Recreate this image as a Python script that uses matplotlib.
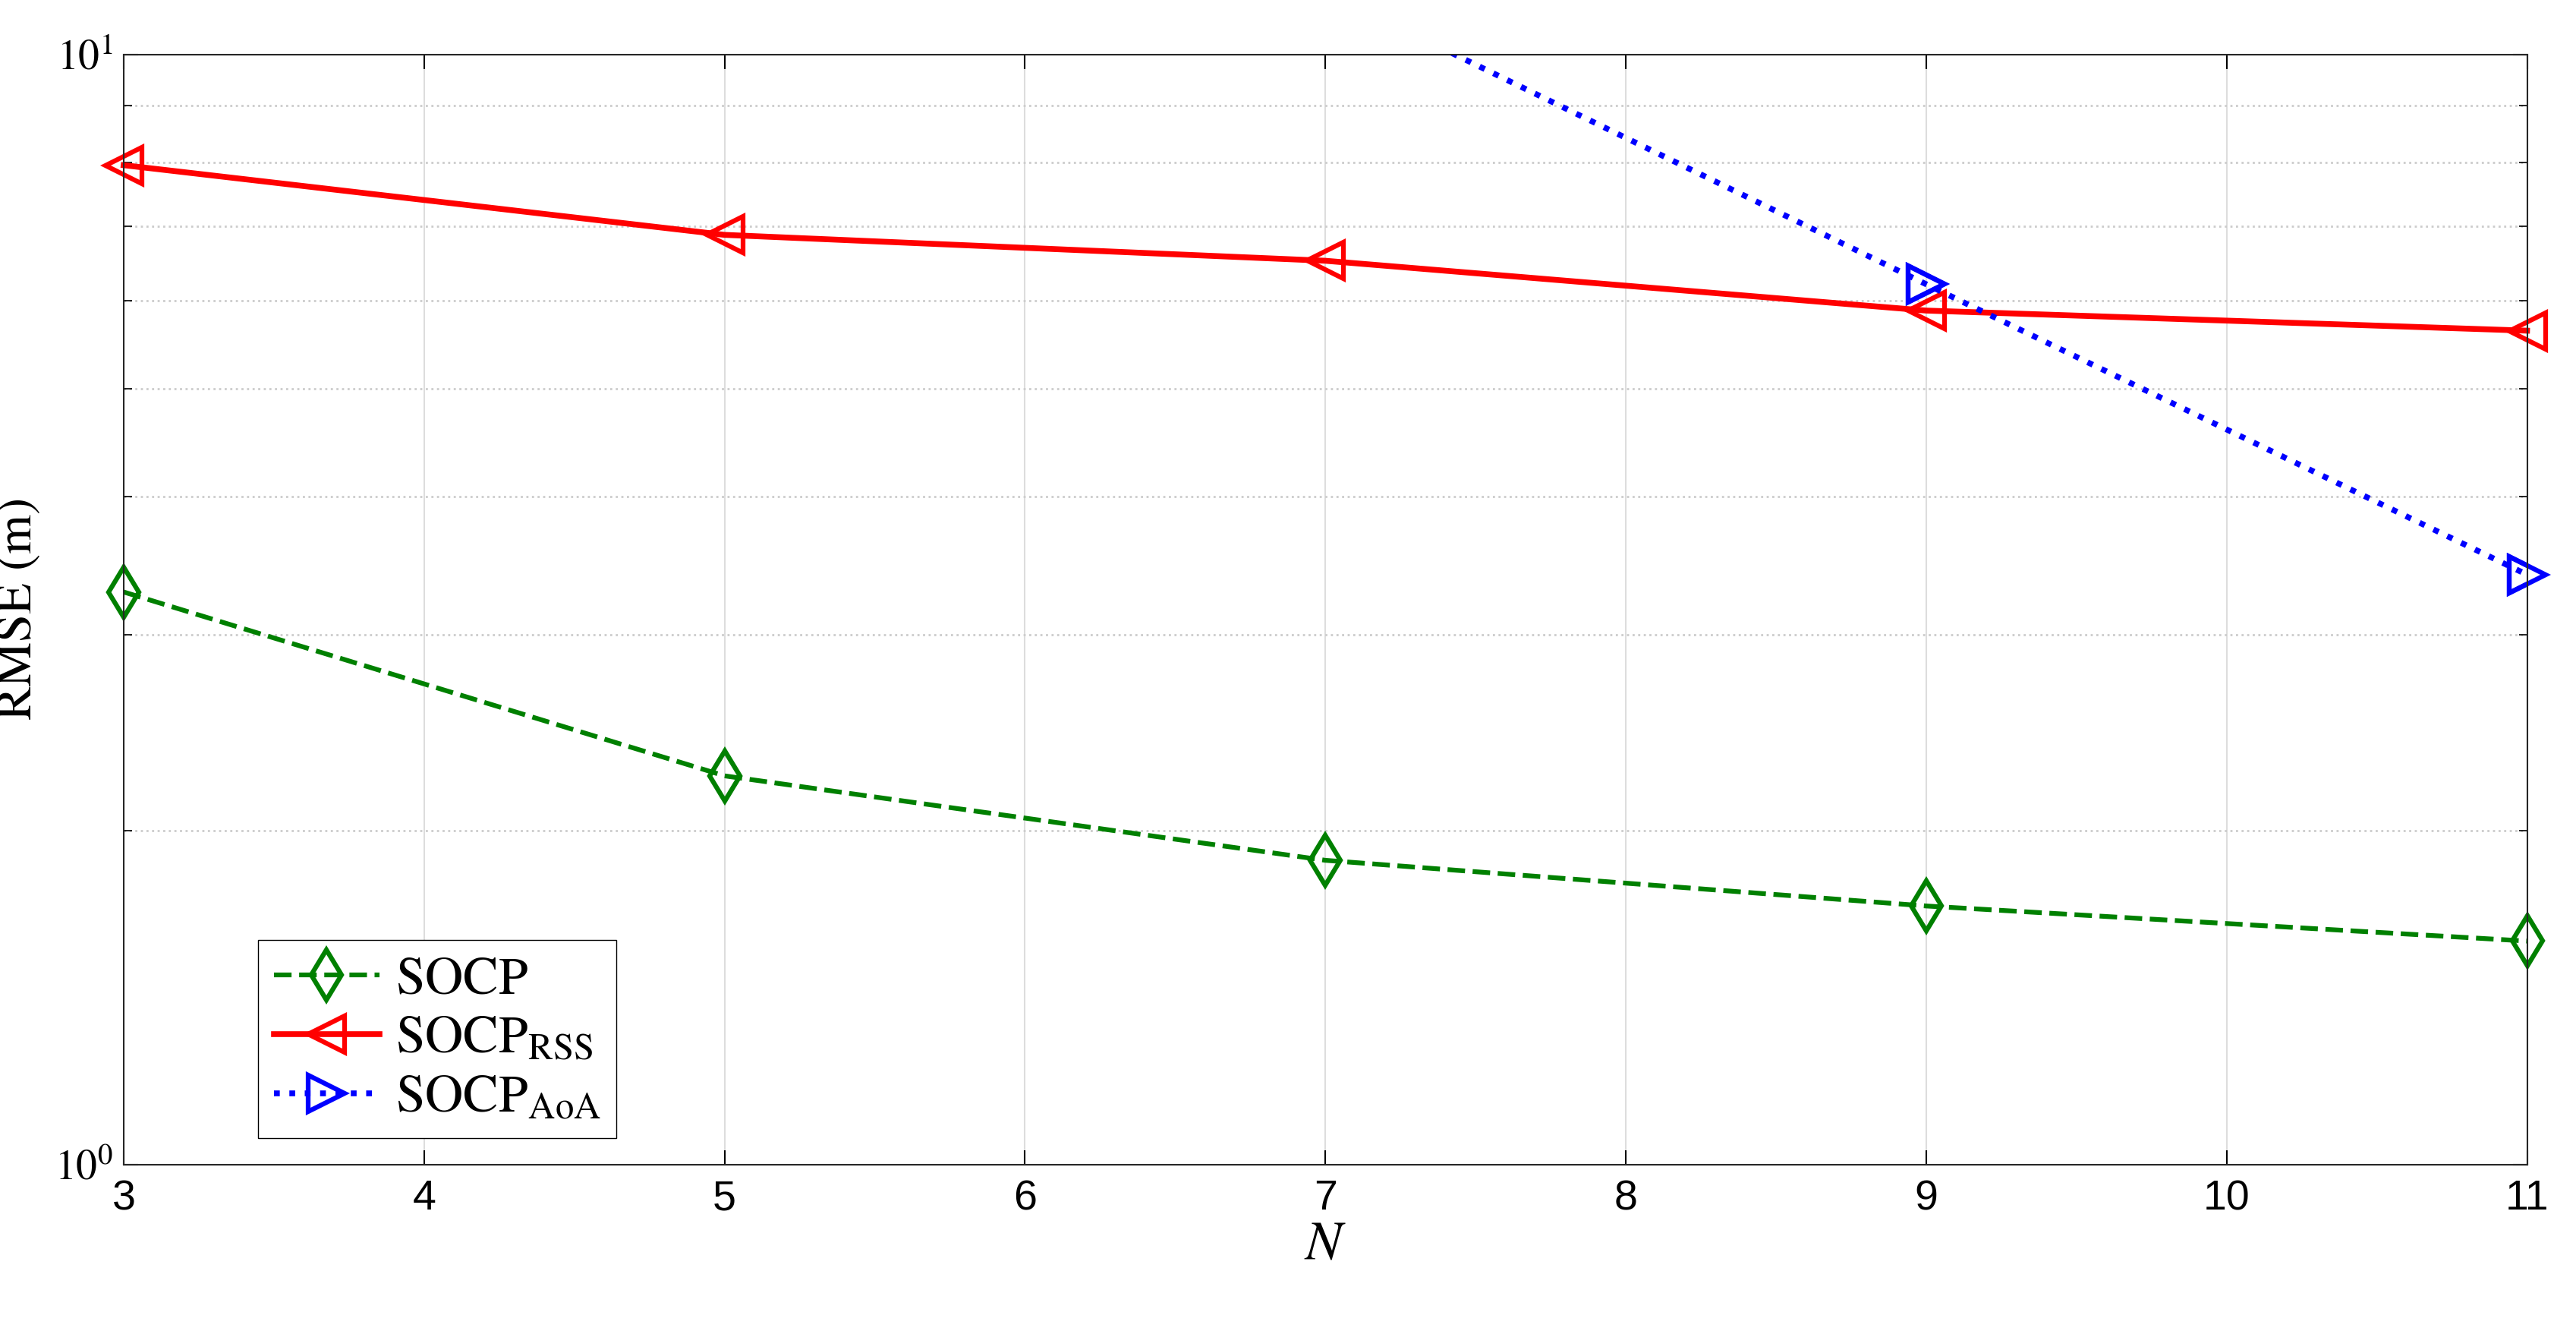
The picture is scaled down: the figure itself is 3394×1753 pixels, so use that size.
import numpy as np
import matplotlib
matplotlib.use("Agg")
import matplotlib.pyplot as plt
from matplotlib.ticker import LogLocator, NullFormatter

plt.rcParams['font.family'] = ['Liberation Sans', 'DejaVu Sans']
plt.rcParams['mathtext.fontset'] = 'stix'

n_vals = [3, 5, 7, 9, 11]
rmse_socp = [3.28, 2.24, 1.88, 1.71, 1.59]
rmse_rss = [7.95, 6.88, 6.52, 5.88, 5.64]
rmse_aoa = [40.0, 20.7, 11.4, 6.21, 3.40]

fig = plt.figure(figsize=(33.94, 17.53), dpi=100)
ax = fig.add_axes([0.048, 0.125, 0.933, 0.834])

mk = dict(markersize=34, markerfacecolor='none', markeredgewidth=4.5)
ax.plot(n_vals, rmse_socp, '--', color='#008000', marker='d', lw=4.5,
        label=r'$\mathrm{SOCP}$', **mk)
ax.plot(n_vals, rmse_rss, '-', color='#ff0000', marker='<', lw=5.5,
        label=r'$\mathrm{SOCP}_{\mathrm{RSS}}$', **mk)
ax.plot(n_vals, rmse_aoa, ':', color='#0000ff', marker='>', lw=5.5,
        label=r'$\mathrm{SOCP}_{\mathrm{AoA}}$', **mk)
# let markers spill past the edges, but keep the AoA line clipped at the top
for ln in ax.lines[:2]:
    ln.set_clip_on(False)
ax.plot(n_vals[-2:], rmse_aoa[-2:], ls='none', color='#0000ff', marker='>',
        clip_on=False, **mk)

ax.set_yscale('log')
ax.set_xlim(3, 11)
ax.set_ylim(1, 10)
ax.set_xticks(range(3, 12))
ax.yaxis.set_minor_locator(LogLocator(base=10, subs=np.arange(2, 10)))
ax.yaxis.set_minor_formatter(NullFormatter())
ax.set_yticks([1, 10])
ax.set_yticklabels([r'$10^0$', r'$10^1$'])
ax.tick_params(labelsize=40, length=14, width=1.5, direction='in', top=True, right=True)
ax.tick_params(axis='x', pad=14)
ax.tick_params(axis='y', pad=10)
ax.tick_params(which='minor', length=8, width=1.2, direction='in', right=True)
ax.grid(axis='x', which='major', color='#dddddd', lw=1.5)
ax.grid(axis='y', which='minor', color='#cccccc', ls=':', lw=2)
ax.grid(axis='y', which='major', color='#dddddd', lw=1.5)
for s in ax.spines.values():
    s.set_linewidth(1.5)
    s.set_color('#262626')

ax.set_xlabel(r'$N$', fontsize=52, labelpad=0)
ax.set_ylabel(r'$\mathrm{RMSE\ (m)}$', fontsize=48, labelpad=12)

ax.legend(loc='lower left', fontsize=50, fancybox=False, edgecolor='k',
          framealpha=1, handlelength=2.0, borderpad=0.3, labelspacing=0.2,
          handletextpad=0.3, bbox_to_anchor=(0.045, 0.0))

fig.savefig('out.png', dpi=100)
